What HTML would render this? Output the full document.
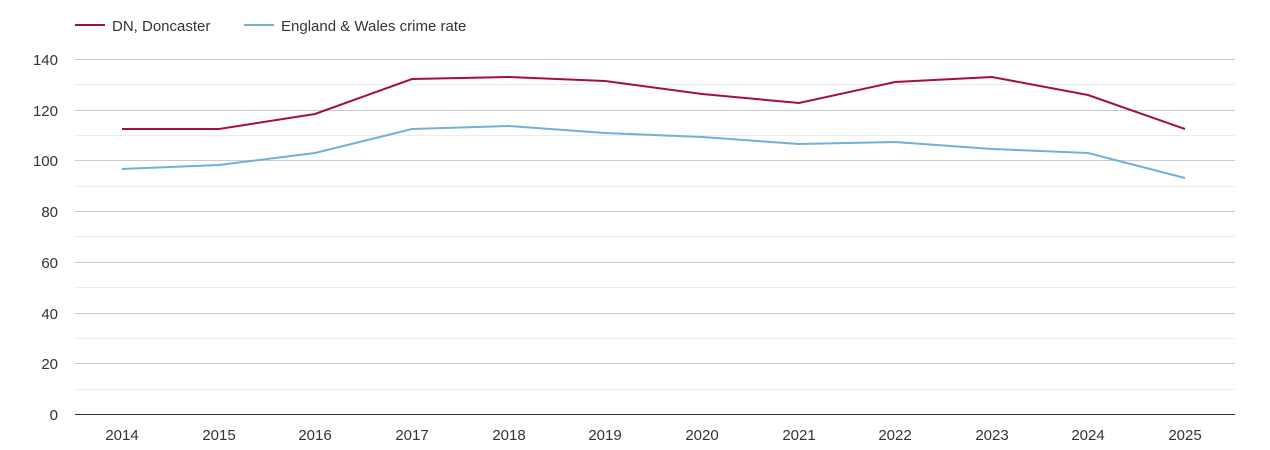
<!DOCTYPE html>
<html><head><meta charset="utf-8"><style>
body{margin:0;background:#fff;}
svg{display:block;font-family:"Liberation Sans",Arial,sans-serif;}
</style></head><body>
<svg width="1270" height="450" viewBox="0 0 1270 450" xmlns="http://www.w3.org/2000/svg">
<g stroke="#ececec" stroke-width="1">
<line x1="75" y1="84.5" x2="1235" y2="84.5"/>
<line x1="75" y1="135.5" x2="1235" y2="135.5"/>
<line x1="75" y1="186.5" x2="1235" y2="186.5"/>
<line x1="75" y1="236.5" x2="1235" y2="236.5"/>
<line x1="75" y1="287.5" x2="1235" y2="287.5"/>
<line x1="75" y1="338.5" x2="1235" y2="338.5"/>
<line x1="75" y1="389.5" x2="1235" y2="389.5"/>
</g>
<g stroke="#cccccc" stroke-width="1">
<line x1="75" y1="59.5" x2="1235" y2="59.5"/>
<line x1="75" y1="110.5" x2="1235" y2="110.5"/>
<line x1="75" y1="160.5" x2="1235" y2="160.5"/>
<line x1="75" y1="211.5" x2="1235" y2="211.5"/>
<line x1="75" y1="262.5" x2="1235" y2="262.5"/>
<line x1="75" y1="313.5" x2="1235" y2="313.5"/>
<line x1="75" y1="363.5" x2="1235" y2="363.5"/>
</g>
<line x1="75" y1="414.5" x2="1235" y2="414.5" stroke="#333" stroke-width="1"/>
<g font-size="15" fill="#333" text-anchor="end">
<text x="58" y="65">140</text><text x="58" y="116">120</text><text x="58" y="166">100</text>
<text x="58" y="217">80</text><text x="58" y="268">60</text><text x="58" y="319">40</text>
<text x="58" y="369">20</text><text x="58" y="420">0</text>
</g>
<g font-size="15" fill="#333" text-anchor="middle">
<text x="122" y="440">2014</text><text x="219" y="440">2015</text><text x="315" y="440">2016</text>
<text x="412" y="440">2017</text><text x="509" y="440">2018</text><text x="605" y="440">2019</text>
<text x="702" y="440">2020</text><text x="799" y="440">2021</text><text x="895" y="440">2022</text>
<text x="992" y="440">2023</text><text x="1088" y="440">2024</text><text x="1185" y="440">2025</text>
</g>
<polyline fill="none" stroke="#74afd6" stroke-width="2" points="122,169 219,165 315,153 412,129 509,126 605,133 702,137 799,144 895,142 992,149 1088,153 1185,178"/>
<polyline fill="none" stroke="#a50f3a" stroke-width="2" points="122,129 219,129 315,114 412,79 509,77 605,81 702,94 799,103 895,82 992,77 1088,95 1185,129"/>
<line x1="75" y1="25" x2="105" y2="25" stroke="#a50f3a" stroke-width="2"/>
<text x="112" y="31" font-size="15" fill="#333">DN, Doncaster</text>
<line x1="244" y1="25" x2="274" y2="25" stroke="#74afd6" stroke-width="2"/>
<text x="281" y="31" font-size="15" fill="#333">England &amp; Wales crime rate</text>
</svg>
</body></html>
